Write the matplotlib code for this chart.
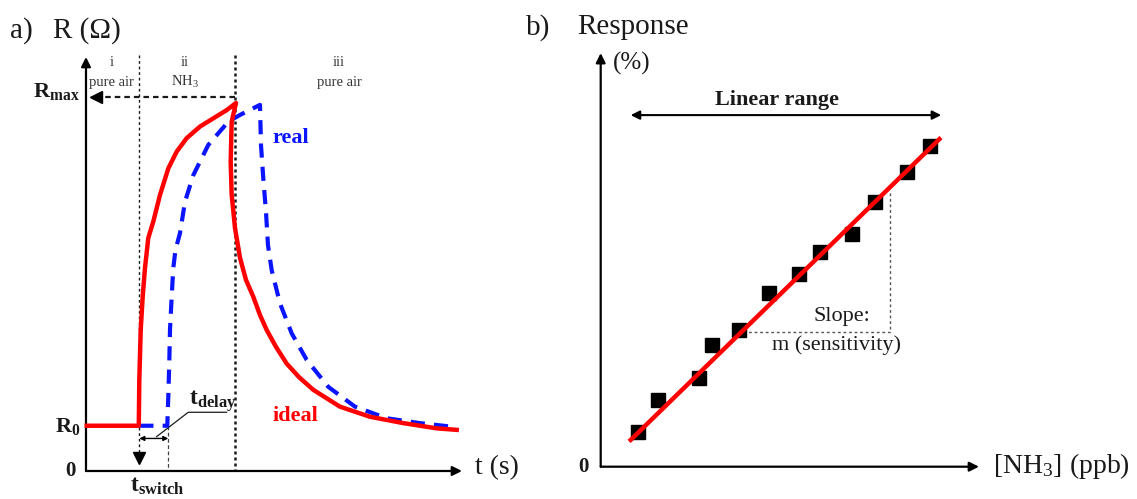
import matplotlib
matplotlib.use("Agg")
import matplotlib.pyplot as plt

# ---- panel a: resistance transient (t in a.u., R in a.u.) ----
R0 = 1.21
R_MAX = 10.01
T_SWITCH = 14.18
T_DELAY_END = 21.89
T_OFF = 39.63

ideal_t = [0.2, 14.04, 14.18, 14.55, 15.08, 15.69, 16.57, 17.90, 19.68, 21.89,
           24.12, 26.78, 30.32, 33.86, 37.42, 39.89, 38.75, 38.48, 38.75,
           39.63, 40.96, 42.55, 44.49, 46.28, 48.06, 50.53, 53.38, 56.65,
           60.45, 67.55, 75.53, 84.39, 93.27, 98.59]
ideal_R = [1.21, 1.21, 2.43, 3.77, 4.66, 5.43, 6.23, 6.67, 7.38, 8.09,
           8.54, 8.90, 9.21, 9.43, 9.65, 9.84, 9.34, 8.27, 7.38,
           6.50, 5.70, 5.11, 4.66, 4.17, 3.77, 3.32, 2.87, 2.51,
           2.17, 1.72, 1.45, 1.28, 1.14, 1.10]

real_t = [14.18, 21.62, 21.89, 22.15, 22.34, 22.79, 23.22, 23.80, 25.0, 26.33,
          28.54, 32.53, 37.85, 40.96, 46.28, 46.54, 47.15, 47.87, 48.40,
          49.39, 51.60, 54.71, 58.70, 64.44, 71.54, 79.97, 88.83, 97.69]
real_R = [1.21, 1.21, 1.99, 2.89, 3.77, 4.66, 5.43, 5.91, 6.36, 7.20,
          7.91, 8.72, 9.34, 9.52, 9.79, 8.72, 7.83, 6.93, 6.04,
          5.37, 4.48, 3.68, 2.97, 2.25, 1.72, 1.41, 1.28, 1.18]

phase_t = [6.9, 26.3, 67.3]
phase_num = ["i", "ii", "iii"]
phase_gas = ["pure air", "NH$_3$", "pure air"]

# ---- panel b: calibration (ppb vs %) ----
conc = [12.27, 19.23, 32.7, 37.0, 46.1, 56.1, 66.0, 73.1, 83.7, 91.5, 102.2, 109.8]
resp = [8.75, 16.68, 22.1, 30.4, 34.2, 43.35, 48.2, 53.6, 58.2, 66.25, 73.75, 80.25]
fit_conc = [10.0, 112.9]
fit_resp = [6.7, 81.9]
slope_conc = [47.4, 96.4, 96.4]
slope_resp = [33.75, 33.75, 68.75]
linear_range = [10.0, 113.5]

plt.rcParams["font.family"] = ["Liberation Serif", "DejaVu Serif"]
plt.rcParams["mathtext.fontset"] = "custom"
plt.rcParams["mathtext.rm"] = "Liberation Serif"
plt.rcParams["mathtext.it"] = "Liberation Serif:italic"
plt.rcParams["mathtext.bf"] = "Liberation Serif:bold"

INK = "#1a1a1a"
RED = "#ff0000"
BLUE = "#0a14ff"


def axis_arrow(ax, start, end, lw=1.6, size=14):
    ax.annotate("", xy=end, xytext=start,
                arrowprops=dict(arrowstyle="-|>", lw=lw, color="black",
                                mutation_scale=size, shrinkA=0, shrinkB=0))


fig = plt.figure(figsize=(11.37, 4.99), dpi=100)
axa = fig.add_axes([0, 0, 520 / 1137, 1])
axb = fig.add_axes([520 / 1137, 0, 617 / 1137, 1])
axa.set_xlim(-22.87, 115.43)
axa.set_ylim(-0.749, 12.594)
axb.set_xlim(-26.9, 178.77)
axb.set_ylim(-8.075, 116.675)
for ax in (axa, axb):
    ax.axis("off")

# panel a
axis_arrow(axa, (0, 0), (0, 11.07))
axis_arrow(axa, (0, 0), (100, 0))

axa.plot([T_SWITCH, T_SWITCH], [11.12, 0.45], color=INK, lw=1.0, ls=(0, (2, 2)))
axa.plot([T_SWITCH], [0.35], marker="v", color="black", ms=8)
axa.plot([T_OFF, T_OFF], [11.12, 0], color=INK, lw=1.8, ls=(0, (1.2, 1.2)))
axa.plot([T_DELAY_END, T_DELAY_END], [R0, 0], color="#444444", lw=0.9, ls=(0, (3, 2)))
axa.plot([T_OFF, 3.0], [R_MAX, R_MAX], color=INK, lw=1.6, ls=(0, (2.5, 1.8)))
axa.plot([2.6], [R_MAX], marker="<", color="black", ms=8)

axa.plot(real_t, real_R, color=BLUE, lw=3.0, dashes=(3.4, 2.2), zorder=3)
axa.plot(ideal_t, ideal_R, color=RED, lw=3.2, zorder=4)

axa.annotate("", xy=(T_SWITCH, 0.87), xytext=(T_DELAY_END, 0.87),
             arrowprops=dict(arrowstyle="<|-|>", lw=1.0, color="black",
                             mutation_scale=7, shrinkA=0, shrinkB=0))
axa.plot([18.8, 27.2, 37.4], [0.92, 1.57, 1.57], color=INK, lw=0.9)

for t, num, gas in zip(phase_t, phase_num, phase_gas):
    axa.text(t, 10.91, num, ha="center", va="center", fontsize=10.5, color="#333333")
    axa.text(t, 10.40, gas, ha="center", va="center", fontsize=10.5, color="#333333")

axa.text(-20.2, 11.79, "a)", ha="left", va="center", fontsize=21, color=INK)
axa.text(-8.78, 11.79, "R (\u03a9)", ha="left", va="center", fontsize=21, color=INK)
axa.text(103.5, 0.1, "t (s)", ha="left", va="center", fontsize=20, color=INK)
axa.text(-1.6, 10.0, r"$\mathbf{R}_{\mathbf{max}}$", ha="right", va="baseline",
         fontsize=16, color=INK)
axa.text(-1.6, 1.05, r"$\mathbf{R}_{\mathbf{0}}$", ha="right", va="baseline",
         fontsize=16, color=INK)
axa.text(-4.26, 0, "0", ha="center", va="center", fontsize=15, fontweight="bold", color=INK)
axa.text(11.7, -0.56, r"$\mathbf{t}_{\mathbf{switch}}$", ha="left", va="baseline",
         fontsize=17, color=INK)
axa.text(27.4, 1.76, r"$\mathbf{t}_{\mathbf{delay}}$", ha="left", va="baseline",
         fontsize=17, color=INK)
axa.text(49.7, 8.9, "real", ha="left", va="center", fontsize=16, fontweight="bold", color=BLUE)
axa.text(49.7, 1.47, "ideal", ha="left", va="center", fontsize=16, fontweight="bold", color=RED)

# panel b
axis_arrow(axb, (0, 0), (0, 103.4))
axis_arrow(axb, (0, 0), (126.1, 0))
axb.annotate("", xy=(linear_range[0], 87.9), xytext=(linear_range[1], 87.9),
             arrowprops=dict(arrowstyle="<|-|>", lw=1.5, color="black",
                             mutation_scale=13, shrinkA=0, shrinkB=0))
axb.plot(slope_conc, slope_resp, color="#555555", lw=1.0, ls=(0, (2, 2)))
axb.plot(conc, resp, ls="none", marker="s", ms=9.5, color="black", zorder=3)
axb.plot(fit_conc, fit_resp, color=RED, lw=3.2, zorder=4)

axb.text(-24.9, 109.9, "b)", ha="left", va="center", fontsize=21, color=INK)
axb.text(-7.77, 109.9, "Response", ha="left", va="center", fontsize=21, color=INK)
axb.text(4.1, 100.9, "(%)", ha="left", va="center", fontsize=18, color=INK)
axb.text(58.8, 91.7, "Linear range", ha="center", va="center", fontsize=16,
         fontweight="bold", color=INK)
axb.text(80.4, 37.5, "Slope:", ha="center", va="center", fontsize=16, color=INK)
axb.text(78.7, 30.4, "m (sensitivity)", ha="center", va="center", fontsize=16, color=INK)
axb.text(-5.6, -0.1, "0", ha="center", va="center", fontsize=15, fontweight="bold", color=INK)
axb.text(130.8, 0.2, "[NH$_3$] (ppb)", ha="left", va="center", fontsize=20, color=INK)

fig.savefig("out.png", dpi=100)
